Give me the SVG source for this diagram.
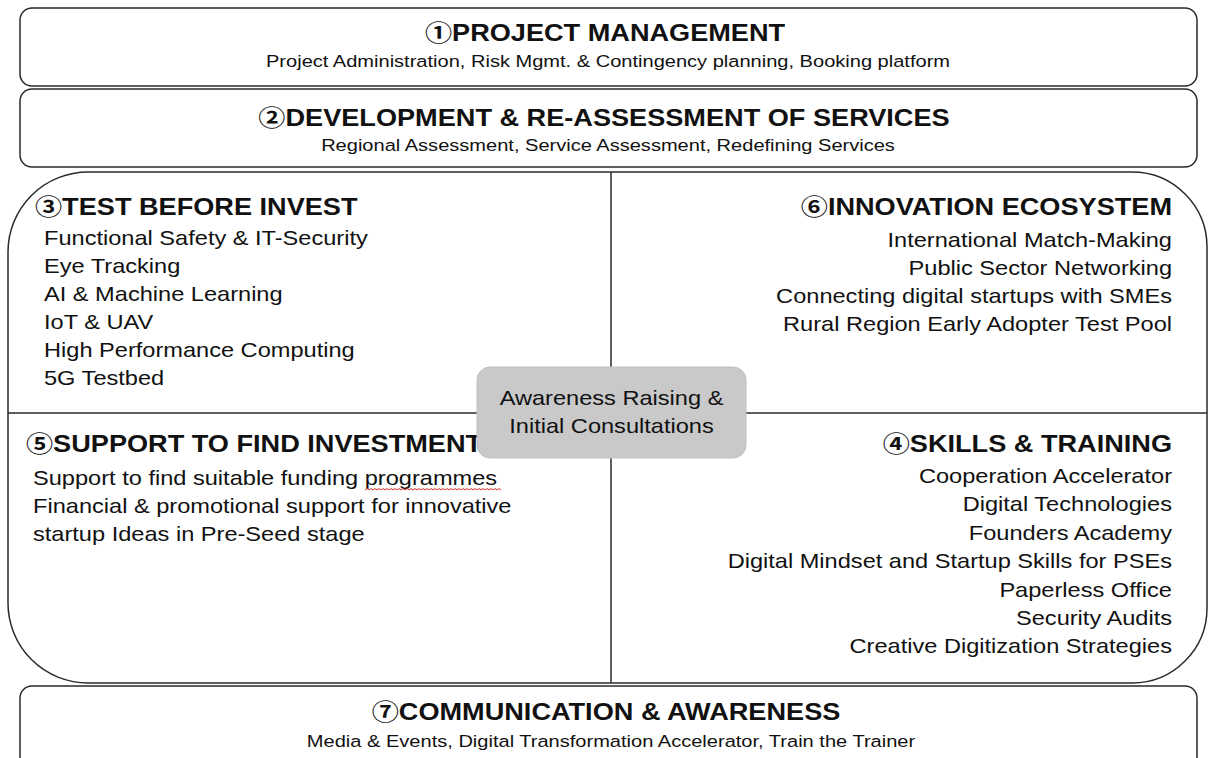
<svg xmlns="http://www.w3.org/2000/svg" width="1208" height="758" viewBox="0 0 1208 758">
<style>
  .box { fill: #ffffff; stroke: #2a2a2a; stroke-width: 1.5; }
  .div { stroke: #2a2a2a; stroke-width: 1.5; fill: none; }
  .t { font-family: "Liberation Sans", Arial, Helvetica, "Noto Sans CJK JP", sans-serif; fill: #111; }
  .title { font-size: 23px; font-weight: bold; }
  .sub { font-size: 17px; }
  .body { font-size: 20px; }
  .mid { text-anchor: middle; }
  .end { text-anchor: end; }
  .grey { fill: #c9c9c9; stroke: #c0c0c0; stroke-width: 1; }
  .squig { fill: none; stroke: #e0352b; stroke-width: 1; }
</style>
<rect width="1208" height="758" fill="#ffffff"/>

<g id="node-project-management">
  <rect class="box" x="20" y="8" width="1177" height="78" rx="12"/>
  <text class="t title mid" transform="translate(605,41) scale(1.18,1)">①PROJECT MANAGEMENT</text>
  <text class="t sub mid" transform="translate(608,67) scale(1.18,1)">Project Administration, Risk Mgmt. &amp; Contingency planning, Booking platform</text>
</g>

<g id="node-development">
  <rect class="box" x="20" y="89" width="1177" height="78" rx="12"/>
  <text class="t title mid" transform="translate(604,126) scale(1.18,1)">②DEVELOPMENT &amp; RE-ASSESSMENT OF SERVICES</text>
  <text class="t sub mid" transform="translate(608,151) scale(1.18,1)">Regional Assessment, Service Assessment, Redefining Services</text>
</g>

<g id="node-core-panel">
  <path class="box" d="M88,172 H1132 A75,75 0 0 1 1207,247 V608 A75,75 0 0 1 1132,683 H88 A80,80 0 0 1 8,603 V252 A80,80 0 0 1 88,172 Z"/>
  <line class="div" x1="611" y1="172" x2="611" y2="683"/>
  <line class="div" x1="8" y1="413" x2="1207" y2="413"/>
</g>

<g id="node-test-before-invest">
  <text class="t title" transform="translate(35,215) scale(1.18,1)">③TEST BEFORE INVEST</text>
  <text class="t body" transform="translate(44,245) scale(1.18,1)">Functional Safety &amp; IT-Security</text>
  <text class="t body" transform="translate(44,273) scale(1.18,1)">Eye Tracking</text>
  <text class="t body" transform="translate(44,301) scale(1.18,1)">AI &amp; Machine Learning</text>
  <text class="t body" transform="translate(44,329) scale(1.18,1)">IoT &amp; UAV</text>
  <text class="t body" transform="translate(44,357) scale(1.18,1)">High Performance Computing</text>
  <text class="t body" transform="translate(44,385) scale(1.18,1)">5G Testbed</text>
</g>

<g id="node-innovation-ecosystem">
  <text class="t title end" transform="translate(1172,215) scale(1.18,1)">⑥INNOVATION ECOSYSTEM</text>
  <text class="t body end" transform="translate(1172,247) scale(1.18,1)">International Match-Making</text>
  <text class="t body end" transform="translate(1172,275) scale(1.18,1)">Public Sector Networking</text>
  <text class="t body end" transform="translate(1172,303) scale(1.18,1)">Connecting digital startups with SMEs</text>
  <text class="t body end" transform="translate(1172,331) scale(1.18,1)">Rural Region Early Adopter Test Pool</text>
</g>

<g id="node-support-investment">
  <text class="t title" transform="translate(26,452) scale(1.18,1)">⑤SUPPORT TO FIND INVESTMENT</text>
  <text class="t body" transform="translate(33,485) scale(1.18,1)">Support to find suitable funding programmes</text>
  <path class="squig" d="M365,490 l2,-1.5 2,1.5 2,-1.5 2,1.5 2,-1.5 2,1.5 2,-1.5 2,1.5 2,-1.5 2,1.5 2,-1.5 2,1.5 2,-1.5 2,1.5 2,-1.5 2,1.5 2,-1.5 2,1.5 2,-1.5 2,1.5 2,-1.5 2,1.5 2,-1.5 2,1.5 2,-1.5 2,1.5 2,-1.5 2,1.5 2,-1.5 2,1.5 2,-1.5 2,1.5 2,-1.5 2,1.5 2,-1.5 2,1.5 2,-1.5 2,1.5 2,-1.5 2,1.5 2,-1.5 2,1.5 2,-1.5 2,1.5 2,-1.5 2,1.5 2,-1.5 2,1.5 2,-1.5 2,1.5 2,-1.5 2,1.5 2,-1.5 2,1.5 2,-1.5 2,1.5 2,-1.5 2,1.5 2,-1.5 2,1.5 2,-1.5 2,1.5 2,-1.5 2,1.5 2,-1.5 2,1.5 2,-1.5 2,1.5"/>
  <text class="t body" transform="translate(33,513) scale(1.18,1)">Financial &amp; promotional support for innovative</text>
  <text class="t body" transform="translate(33,541) scale(1.18,1)">startup Ideas in Pre-Seed stage</text>
</g>

<g id="node-skills-training">
  <text class="t title end" transform="translate(1172,452) scale(1.18,1)">④SKILLS &amp; TRAINING</text>
  <text class="t body end" transform="translate(1172,483) scale(1.18,1)">Cooperation Accelerator</text>
  <text class="t body end" transform="translate(1172,511.4) scale(1.18,1)">Digital Technologies</text>
  <text class="t body end" transform="translate(1172,539.8) scale(1.18,1)">Founders Academy</text>
  <text class="t body end" transform="translate(1172,568.2) scale(1.18,1)">Digital Mindset and Startup Skills for PSEs</text>
  <text class="t body end" transform="translate(1172,596.6) scale(1.18,1)">Paperless Office</text>
  <text class="t body end" transform="translate(1172,625) scale(1.18,1)">Security Audits</text>
  <text class="t body end" transform="translate(1172,653.4) scale(1.18,1)">Creative Digitization Strategies</text>
</g>

<g id="node-awareness-center">
  <rect class="grey" x="477" y="367" width="269" height="91" rx="13"/>
  <text class="t body mid" transform="translate(611.5,405) scale(1.18,1)">Awareness Raising &amp;</text>
  <text class="t body mid" transform="translate(611.5,433) scale(1.18,1)">Initial Consultations</text>
</g>

<g id="node-communication">
  <rect class="box" x="20" y="686" width="1177" height="92" rx="12"/>
  <text class="t title mid" transform="translate(606,720) scale(1.18,1)">⑦COMMUNICATION &amp; AWARENESS</text>
  <text class="t sub mid" transform="translate(611,747) scale(1.18,1)">Media &amp; Events, Digital Transformation Accelerator, Train the Trainer</text>
</g>

<g id="connectors"></g>
</svg>
